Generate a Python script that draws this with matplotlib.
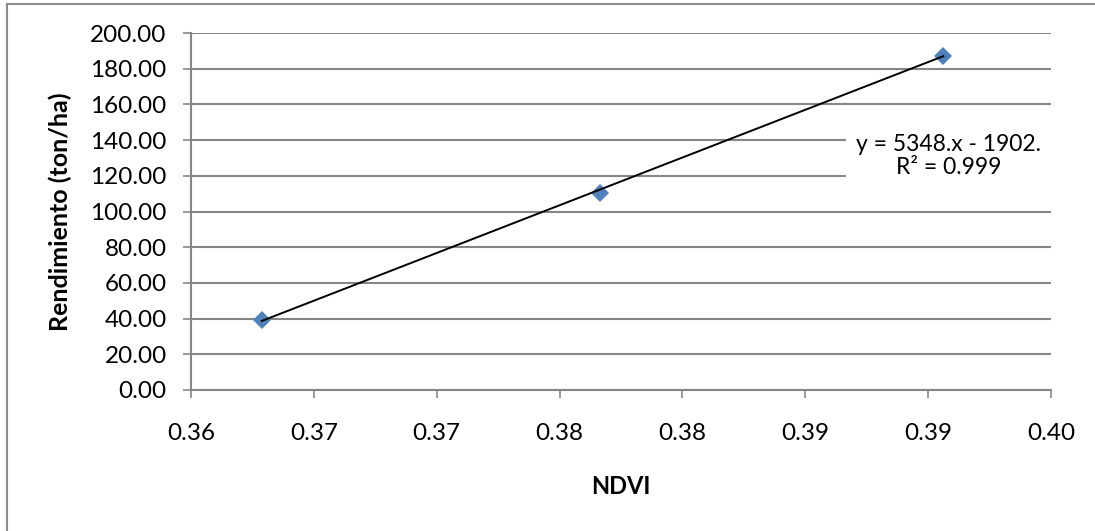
"""
Rendimiento vs NDVI - dispersión con línea de tendencia lineal
"""
import numpy as np
import matplotlib.pyplot as plt
from matplotlib.lines import Line2D
from matplotlib.patches import Rectangle

plt.rcParams['font.family'] = ['Lato', 'DejaVu Sans']

# ========== datos ==========
ndvi = [0.36288, 0.37665, 0.39062]
rendimiento = [39.2, 110.5, 187.3]

# coeficientes de la tendencia lineal (y = a.x + b) y su R²
pendiente = 5348
intercepto = -1902
r2 = 0.999

x_ticks = [0.360, 0.365, 0.370, 0.375, 0.380, 0.385, 0.390, 0.395]
x_tick_labels = ['0.36', '0.37', '0.37', '0.38', '0.38', '0.39', '0.39', '0.40']
y_ticks = [0, 20, 40, 60, 80, 100, 120, 140, 160, 180, 200]

# la línea de tendencia cubre el rango de los datos
x_fit = np.array([min(ndvi), max(ndvi)])
y_fit = pendiente * x_fit + intercepto

GRIS = '#868686'

W, H = 1095, 531
fig = plt.figure(figsize=(W / 100, H / 100), dpi=100)
ax = fig.add_axes([191 / W, (H - 390) / H, 860 / W, 357 / H])

ax.plot(ndvi, rendimiento, linestyle='none', marker='D', markersize=8.8,
        color='#4F81BD', markeredgewidth=0, zorder=3)
ax.plot(x_fit, y_fit, color='black', linewidth=1.4, zorder=4)

ax.set_xlim(0.36, 0.395)
ax.set_ylim(0, 200)
ax.set_xticks(x_ticks)
ax.set_xticklabels(x_tick_labels)
ax.set_yticks(y_ticks)
ax.set_yticklabels([f'{v:.2f}' for v in y_ticks])

ax.grid(axis='y', color=GRIS, linewidth=1.5)
ax.set_axisbelow(True)
for lado in ['top', 'right']:
    ax.spines[lado].set_visible(False)
for lado in ['left', 'bottom']:
    ax.spines[lado].set_color(GRIS)
    ax.spines[lado].set_linewidth(1.5)

ax.tick_params(axis='both', colors=GRIS, labelcolor='black', labelsize=17.5,
               length=5.5, width=1.2, direction='out')
ax.tick_params(axis='x', pad=18)
ax.tick_params(axis='y', pad=12)

ax.set_xlabel('NDVI', fontsize=17, fontweight='bold', va='center')
ax.xaxis.set_label_coords(0.5, (390 - 487) / 357)
ax.set_ylabel('Rendimiento (ton/ha)', fontsize=18, fontweight='bold', va='center')
ax.yaxis.set_label_coords((60 - 191) / 860, 0.5)

# etiqueta de la ecuación: recuadro blanco que tapa la cuadrícula
ax.add_patch(Rectangle((0.762, 0.538), 0.25, 0.224, transform=ax.transAxes,
                       facecolor='white', edgecolor='none', zorder=2,
                       clip_on=False))
ax.text(0.881, 0.655,
        f'y = {pendiente}.x - {abs(intercepto)}.\nR² = {r2:.3f}',
        transform=ax.transAxes, ha='center', va='center', fontsize=16.5,
        linespacing=1.15, zorder=5)

# borde del área del gráfico
fig.add_artist(Line2D([7 / W, 1], [1 - 4 / H, 1 - 4 / H], color='#8c8c8c',
                      linewidth=1.5, transform=fig.transFigure))
fig.add_artist(Line2D([7 / W, 7 / W], [0, 1 - 4 / H], color='#8c8c8c',
                      linewidth=1.5, transform=fig.transFigure))

plt.savefig('out.png', dpi=100)
plt.close()
